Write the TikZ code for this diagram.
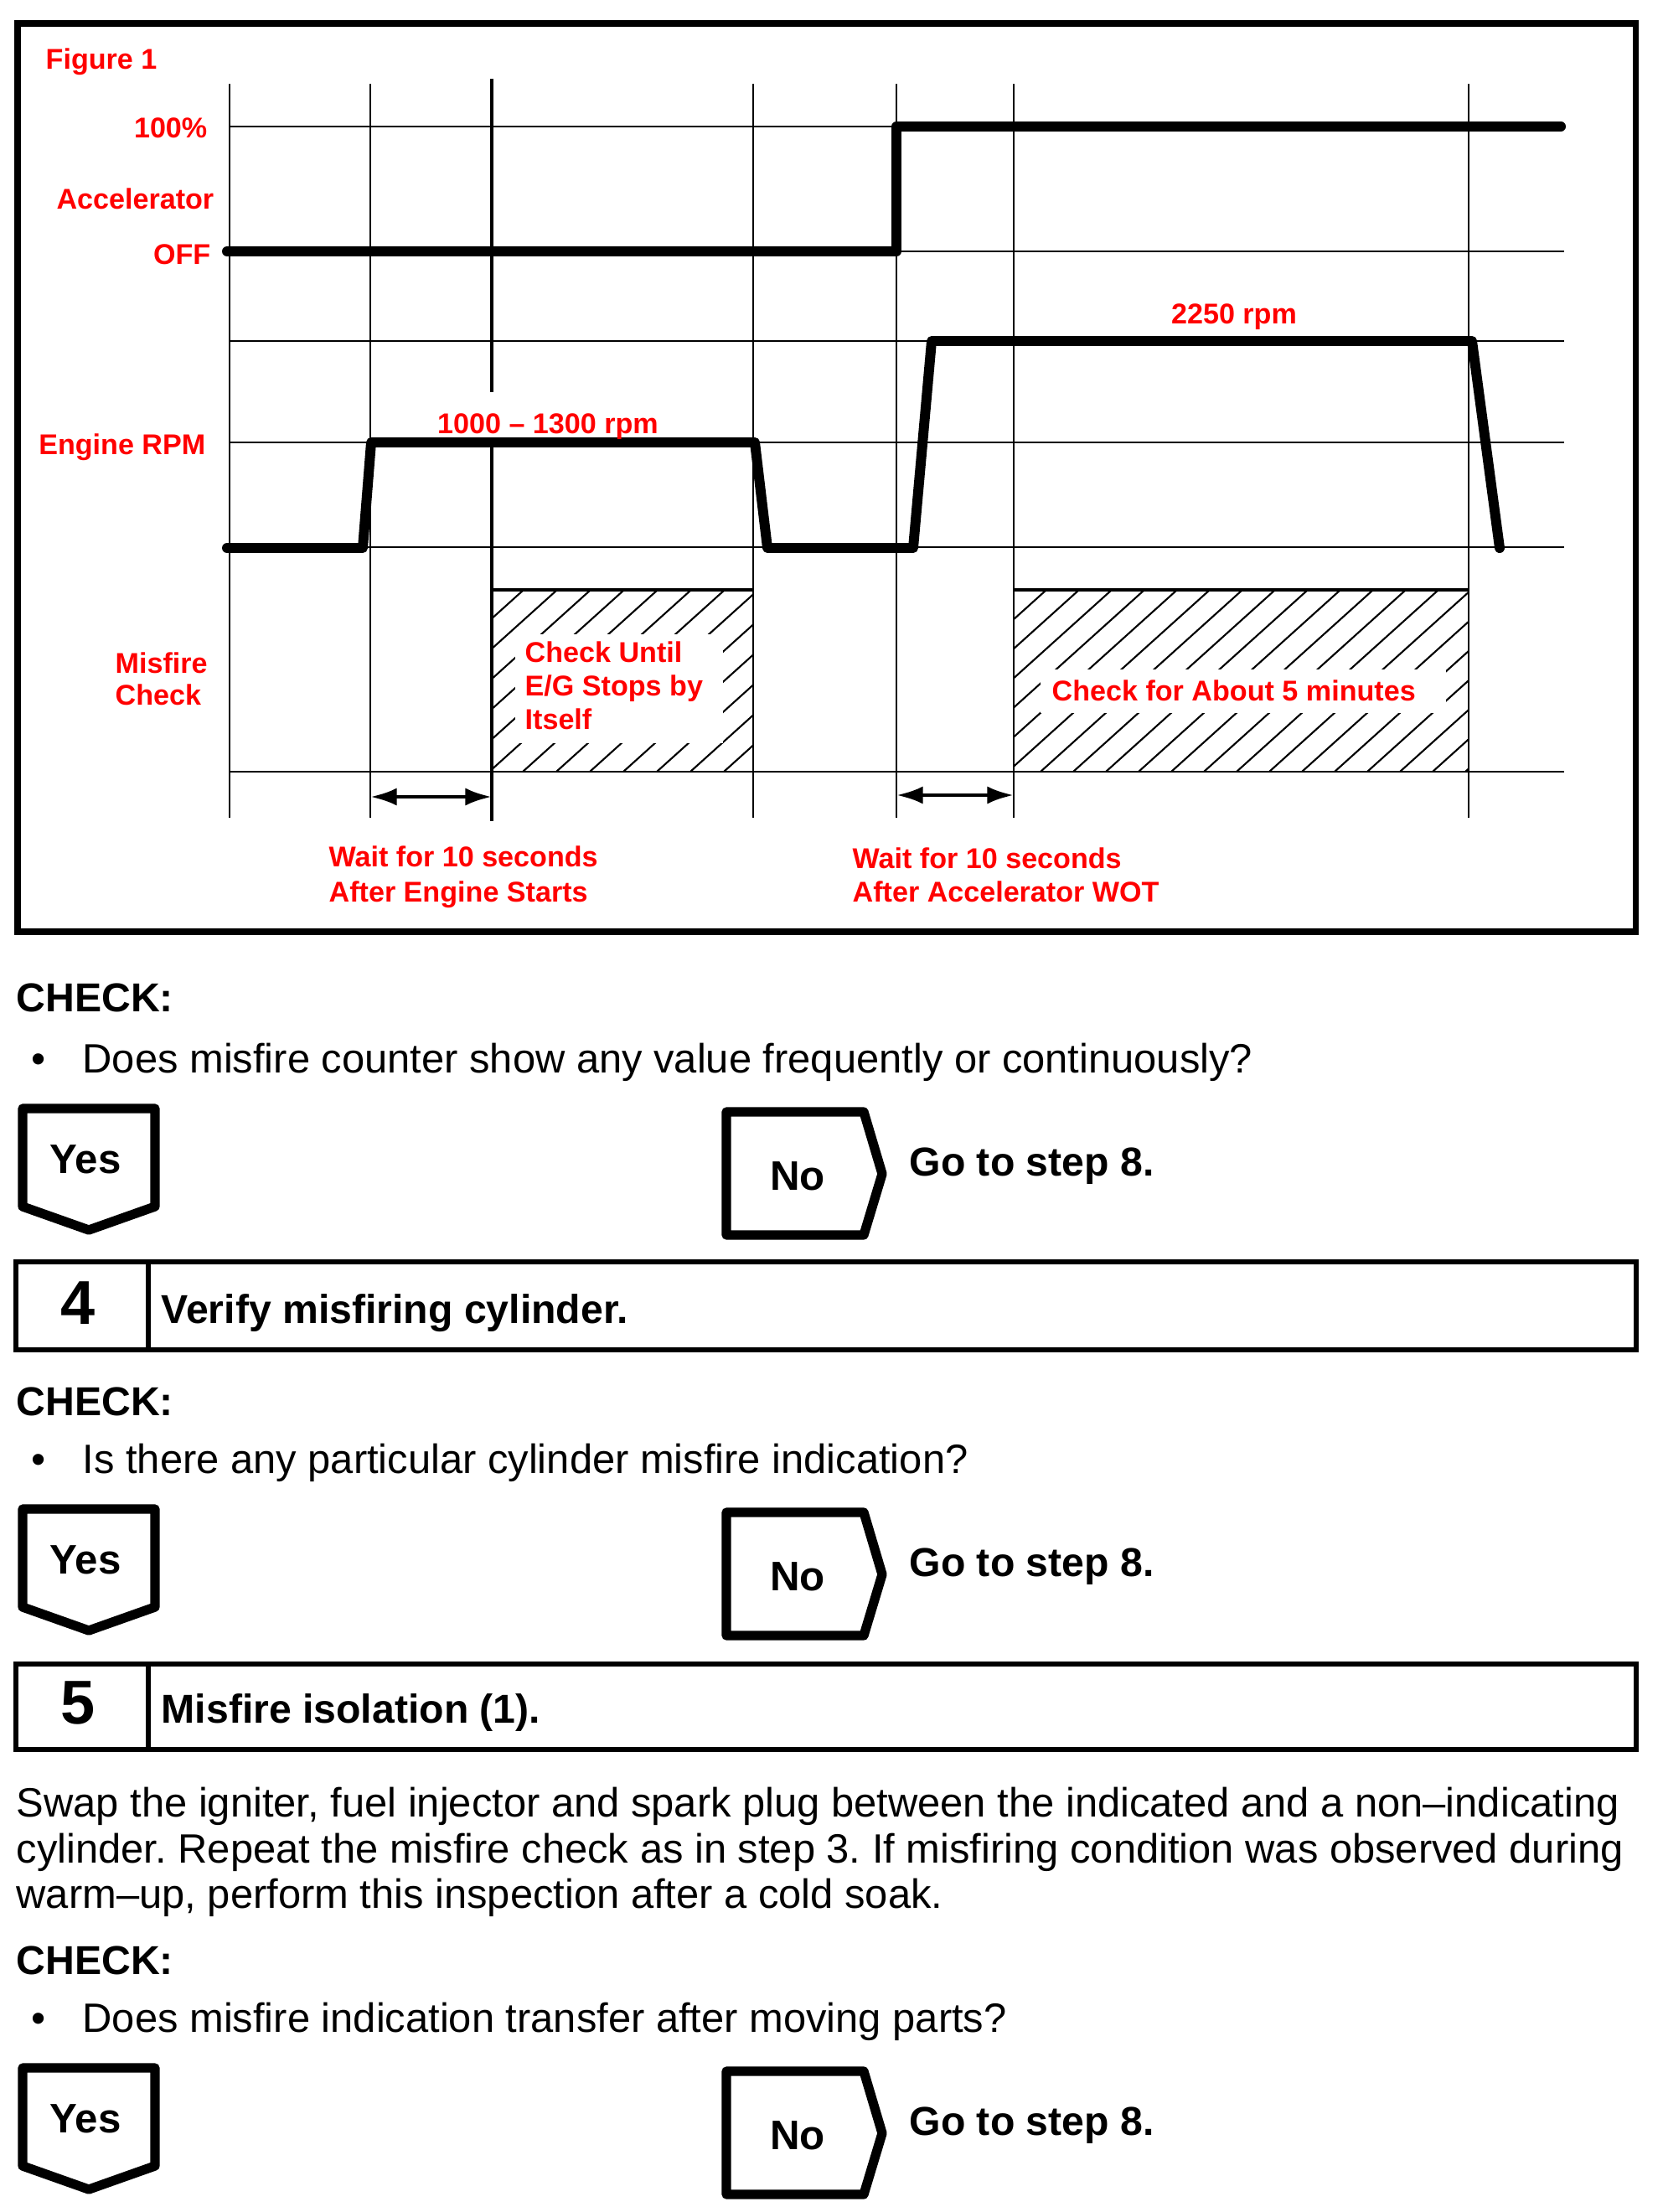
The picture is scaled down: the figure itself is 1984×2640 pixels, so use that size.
\documentclass[tikz,border=0pt]{standalone}
\usepackage{fontspec}
\setmainfont{Liberation Sans}
\usepackage{xcolor}
\usetikzlibrary{arrows.meta, positioning}
\definecolor{figred}{RGB}{255,0,0}
\frenchspacing

\tikzset{
	redlabel/.style={text=figred, font=\fontsize{9.7}{11.4}\selectfont\bfseries, inner sep=0pt},
	bodytext/.style={font=\fontsize{13.9}{15.6}\selectfont, inner sep=0pt, anchor=base west},
	boldtext/.style={bodytext, font=\fontsize{13.7}{15.6}\selectfont\bfseries},
	bignum/.style={font=\fontsize{21}{24}\selectfont\bfseries, inner sep=0pt, anchor=base},
	answer/.style={font=\fontsize{14}{16}\selectfont\bfseries, inner sep=0pt, anchor=base},
	gridline/.style={line width=0.8pt},
	sigline/.style={line width=3.4pt, line cap=round, line join=round},
	hatchline/.style={line width=0.6pt},
	choicebox/.style={line width=3.2pt, line join=round},
	waitarrow/.style={line width=1.3pt, {Latex[length=9pt,width=6pt]}-{Latex[length=9pt,width=6pt]}}
}

\begin{document}
\begin{tikzpicture}[x=0.01cm, y=-0.01cm]
		\useasboundingbox (0,0) rectangle (1984,2640);
		\fill[white] (0,0) rectangle (1984,2640);
		
		% 图 1 外框
		\draw[line width=2pt] (21,28) rectangle (1952,1112);
		\node[redlabel, anchor=base west] (fig) at (54,83) {Figure 1};
		
		% 网格线
		\foreach \x in {274,442,899,1070,1210,1753}
		\draw[gridline] (\x,100) -- (\x,976);
		\draw[line width=1.3pt] (587,94) -- (587,468);
		\draw[line width=1.3pt] (587,528) -- (587,980);
		\foreach \y in {151,300,407,528,653,921}
		\draw[gridline] (274,\y) -- (1867,\y);
		
		% 斜线区域
		\begin{scope}
			\clip (587,704) rectangle (899,921);
			\foreach \x in {585,625,...,1145}
			\draw[hatchline] (\x,704) -- ++(-241,217);
		\end{scope}
		\begin{scope}
			\clip (1210,704) rectangle (1753,921);
			\foreach \x in {1210,1249,...,2000}
			\draw[hatchline] (\x,704) -- ++(-241,217);
		\end{scope}
		\fill[white] (615,757) rectangle (863,887);
		\fill[white] (1242,799) rectangle (1726,851);
		\draw[line width=1.4pt] (587,704) -- (899,704);
		\draw[line width=1.4pt] (1210,704) -- (1753,704);
		
		% 油门和转速曲线
		\draw[sigline] (271,300) -- (1070,300) -- (1070,151) -- (1863,151);
		\draw[sigline] (271,654) -- (433,654) -- (443,528) -- (901,528) -- (916,654)
		-- (1090,654) -- (1112,407) -- (1757,407) -- (1790,654);
		
		% 左侧标签
		\node[redlabel, anchor=base east] (pct) at (248,165) {100\%};
		\node[redlabel, anchor=base east] (acc) at (256,250) {Accelerator};
		\node[redlabel, anchor=base east] (off) at (252,316) {OFF};
		\node[redlabel, anchor=base east] (rpm) at (246,543) {Engine RPM};
		\node[redlabel, anchor=base west] (mf1) at (137,803) {Misfire};
		\node[redlabel, anchor=base west] (mf2) at (137,841) {Check};
		
		% 曲线上的标签
		\node[redlabel, anchor=base] (lo) at (654,518) {1000 – 1300 rpm};
		\node[redlabel, anchor=base] (hi) at (1473,387) {2250 rpm};
		\foreach \t [count=\i] in {Check Until, E/G Stops by, Itself}
		\node[redlabel, anchor=base west] (cu\i) at (626,750+40*\i) {\t};
		\node[redlabel, anchor=base west] (cab) at (1255,836) {Check for About 5 minutes};
		
		% 等待时间
		\coordinate (w1a) at (442,951);
		\coordinate (w1b) at (587,951);
		\coordinate (w2a) at (1070,949);
		\coordinate (w2b) at (1210,949);
		\draw[waitarrow] (w1a) -- (w1b);
		\draw[waitarrow] (w2a) -- (w2b);
		\node[redlabel, anchor=base west] (wa1) at (392,1034) {Wait for 10 seconds};
		\node[redlabel, anchor=base west] (wa2) at (392,1076) {After Engine Starts};
		\node[redlabel, anchor=base west] (wb1) at (1017,1036) {Wait for 10 seconds};
		\node[redlabel, anchor=base west] (wb2) at (1017,1076) {After Accelerator WOT};
		
		% 检查和 Yes/No
		\foreach \c/\b/\t/\q [count=\i] in {
			1207/1280/1323/Does misfire counter show any value frequently or continuously?,
			1689/1758/1801/Is there any particular cylinder misfire indication?,
			2356/2425/2468/Does misfire indication transfer after moving parts?}
		{
			\node[boldtext] (chk\i) at (19,\c) {CHECK:};
			\node[bodytext] (dot\i) at (37,\b) {\textbullet};
			\node[bodytext] (q\i) at (98,\b) {\q};
			\draw[choicebox] (27,\t) -- (185,\t) -- (185,\t+117) -- (106,\t+145) -- (27,\t+117) -- cycle;
			\node[answer] (yes\i) at (102,\t+77) {Yes};
			\draw[choicebox] (867,\t+4) -- (1031,\t+4) -- (1053,\t+78) -- (1031,\t+151) -- (867,\t+151) -- cycle;
			\node[answer] (no\i) at (952,\t+97) {No};
			\node[boldtext] (go\i) at (1085,\t+80) {Go to step 8.};
		}
		
		% 步骤 4 和 5
		\draw[line width=1.6pt] (19,1506) rectangle (1953,1611);
		\draw[line width=1.6pt] (177,1506) -- (177,1611);
		\node[bignum] (n4) at (93,1580) {4};
		\node[boldtext] (s4) at (192,1579) {Verify misfiring cylinder.};
		\draw[line width=1.6pt] (19,1986) rectangle (1953,2088);
		\draw[line width=1.6pt] (177,1986) -- (177,2088);
		\node[bignum] (n5) at (93,2057) {5};
		\node[boldtext] (s5) at (192,2056) {Misfire isolation (1).};
		
		% 说明文字
		\node[bodytext] (p1) at (19,2168) {Swap the igniter, fuel injector and spark plug between the indicated and a non–indicating};
		\node[bodytext] (p2) at (19,2223) {cylinder. Repeat the misfire check as in step 3. If misfiring condition was observed during};
		\node[bodytext] (p3) at (19,2277) {warm–up, perform this inspection after a cold soak.};
	\end{tikzpicture}
\end{document}
